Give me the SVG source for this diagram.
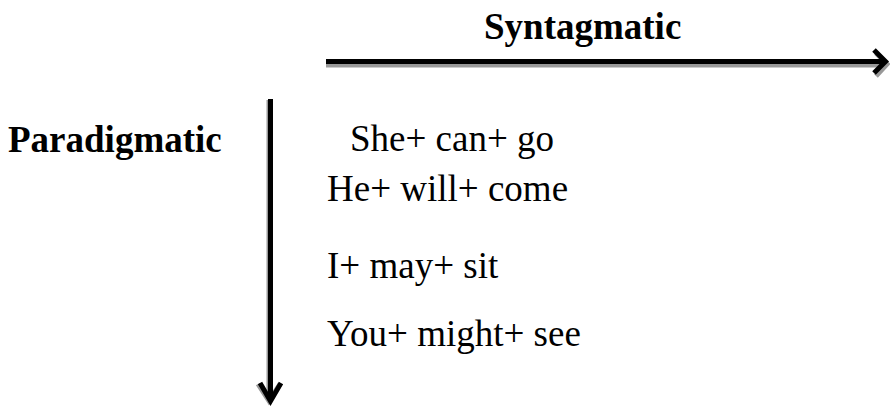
<svg xmlns="http://www.w3.org/2000/svg" width="890" height="406" viewBox="0 0 890 406">
<style>
.t{font-family:"Liberation Serif","Times New Roman",serif;font-size:37px;fill:#000}
.b{font-weight:bold}
.ln{fill:none;stroke:#000;stroke-width:5}
.sh{fill:none;stroke:#999;stroke-width:5}
</style>
<rect width="890" height="406" fill="#fff"/>
<g id="connectors">
  <g id="h-arrow">
    <path class="sh" d="M326,65 H885 M876,53 L887,64 L876,76"/>
    <path class="ln" d="M326,61.5 H884 M874,50 L885.5,61.5 L874,73"/>
  </g>
  <g id="v-arrow">
    <path class="sh" d="M269,100 V400 M258,384 L269,401 L280,384"/>
    <path class="ln" d="M270.5,99 V401 M260,383 L270.5,401 L281,383"/>
  </g>
</g>
<g id="syntagmatic"><text class="t b" x="484" y="39">Syntagmatic</text></g>
<g id="paradigmatic"><text class="t b" x="8" y="152">Paradigmatic</text></g>
<g id="row1"><text class="t" x="350" y="151">She+ can+ go</text></g>
<g id="row2"><text class="t" x="327" y="201">He+ will+ come</text></g>
<g id="row3"><text class="t" x="327" y="278">I+ may+ sit</text></g>
<g id="row4"><text class="t" x="327" y="346">You+ might+ see</text></g>
</svg>
